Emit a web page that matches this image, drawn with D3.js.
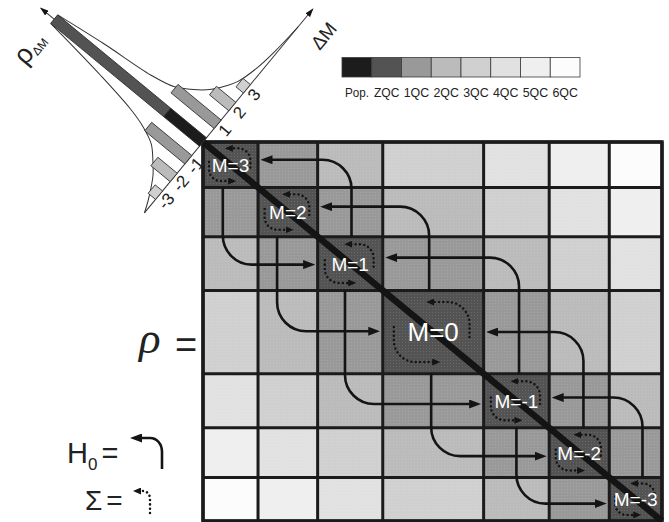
<!DOCTYPE html>
<html>
<head>
<meta charset="utf-8">
<script src="https://cdn.jsdelivr.net/npm/d3@7"></script>
<style>
  body { margin: 0; background: #fff; }
  svg { display: block; }
</style>
</head>
<body>
<script>
// ---- data ----------------------------------------------------------------
// magnetic quantum number of each diagonal block, top-left to bottom-right
const mValues = [3, 2, 1, 0, -1, -2, -3];
// relative dimension of each M subspace
const blockSize = [12, 13, 14.2, 22, 14.3, 13.1, 11.5];
// H0 couplings between M subspaces: [from, to]
const couplings = [[1, 3], [3, 1], [0, 2], [2, 0], [-1, 1], [1, -1], [-2, 0], [0, -2], [-3, -1], [-1, -3]];

// coherence-order legend
const legendLabels = ["Pop.", "ZQC", "1QC", "2QC", "3QC", "4QC", "5QC", "6QC"];

// coherence-order distribution rho(ΔM)
const deltaM = [-3, -2, -1, 0, 1, 2, 3];
const rhoPop = [0, 0, 0, 0.24, 0, 0, 0];
const rhoCoh = [0.05, 0.13, 0.27, 0.76, 0.29, 0.13, 0.05];
// envelope of the distribution, [ΔM, rho]
const envelopePos = [[0.24, 1.0], [0.55, 0.72], [0.8, 0.43], [1.05, 0.30], [1.5, 0.21], [2.0, 0.14], [2.5, 0.095], [3.0, 0.06], [4.0, 0.028], [5.0, 0.012], [6.5, 0]];
const envelopeNeg = [[-0.24, 1.0], [-0.6, 0.63], [-0.9, 0.40], [-1.15, 0.29], [-1.5, 0.2], [-2.0, 0.14], [-2.5, 0.09], [-3.0, 0.055], [-3.5, 0.025], [-4.0, 0]];

// ---- styles / layout -----------------------------------------------------
const palette = ["#1c1c1c", "#535353", "#999999", "#bbbbbb", "#d0d0d0", "#e1e1e1", "#efefef", "#fcfcfc"];
const ink = "#141414";
const W = 669, H = 522;
const mx0 = 203, my0 = 142, mx1 = 662, my1 = 521;
// where each coupling arrow runs inside its column / row (fraction of block)
const lane = {
  "1>3": [0.52, 0.39], "3>1": [0.36, 0.52],
  "0>2": [0.46, 0.39], "2>0": [0.32, 0.49],
  "-1>1": [0.54, 0.39], "1>-1": [0.42, 0.56],
  "-2>0": [0.57, 0.50], "0>-2": [0.48, 0.57],
  "-3>-1": [0.63, 0.44], "-1>-3": [0.50, 0.60]
};

const svg = d3.select("body").append("svg").attr("width", W).attr("height", H);
const defs = svg.append("defs");

function marker(id, len, wid, ref) {
  defs.append("marker").attr("id", id)
    .attr("markerUnits", "userSpaceOnUse")
    .attr("markerWidth", len).attr("markerHeight", wid)
    .attr("refX", ref).attr("refY", wid / 2)
    .attr("orient", "auto")
    .append("path")
    .attr("d", `M0,0 L${len},${wid / 2} L0,${wid} Z`)
    .attr("fill", ink);
}
marker("ah", 12, 9, 5);
marker("ahDot", 8, 7, 2);
marker("ahAxis", 9, 6, 8);

// halftone texture over the density matrix
const pat = defs.append("pattern").attr("id", "dots")
  .attr("patternUnits", "userSpaceOnUse").attr("width", 3).attr("height", 3);
pat.append("rect").attr("x", 0).attr("y", 0).attr("width", 1).attr("height", 1)
  .attr("fill", "#fff").attr("opacity", 0.12);

// ---- density matrix ------------------------------------------------------
const cum = [0, ...d3.cumsum(blockSize)];
const total = cum[cum.length - 1];
const xs = d3.scaleLinear().domain([0, total]).range([mx0, mx1]);
const ys = d3.scaleLinear().domain([0, total]).range([my0, my1]);
const idx = m => mValues.indexOf(m);
const colL = m => xs(cum[idx(m)]), colR = m => xs(cum[idx(m) + 1]);
const rowT = m => ys(cum[idx(m)]), rowB = m => ys(cum[idx(m) + 1]);

const cells = [];
mValues.forEach(r => mValues.forEach(c => cells.push({ r, c, q: Math.abs(r - c) })));

const mat = svg.append("g");
mat.selectAll("rect.cell").data(cells).join("rect")
  .attr("class", "cell")
  .attr("x", d => colL(d.c)).attr("y", d => rowT(d.r))
  .attr("width", d => colR(d.c) - colL(d.c))
  .attr("height", d => rowB(d.r) - rowT(d.r))
  .attr("fill", d => palette[1 + d.q]);
mat.append("rect").attr("x", mx0).attr("y", my0)
  .attr("width", mx1 - mx0).attr("height", my1 - my0)
  .attr("fill", "url(#dots)");

// block grid
mat.selectAll("line.v").data(cum).join("line")
  .attr("x1", d => xs(d)).attr("x2", d => xs(d))
  .attr("y1", my0).attr("y2", my1)
  .attr("stroke", "#1b1b1b").attr("stroke-width", 3);
mat.selectAll("line.h").data(cum).join("line")
  .attr("y1", d => ys(d)).attr("y2", d => ys(d))
  .attr("x1", mx0).attr("x2", mx1)
  .attr("stroke", "#1b1b1b").attr("stroke-width", 3);
mat.append("rect").attr("x", mx0).attr("y", my0)
  .attr("width", mx1 - mx0).attr("height", my1 - my0)
  .attr("fill", "none").attr("stroke", "#1b1b1b").attr("stroke-width", 3.5);

// populations along the diagonal
mat.append("line").attr("x1", mx0).attr("y1", my0).attr("x2", mx1).attr("y2", my1)
  .attr("stroke", ink).attr("stroke-width", 6.5);

// H0 coupling arrows
const r0 = 29, k = 0.55, head = 7;
couplings.forEach(([a, b]) => {
  const [fc, fr] = lane[`${a}>${b}`];
  const xv = colL(a) + fc * (colR(a) - colL(a));
  const yh = rowT(b) + fr * (rowB(b) - rowT(b));
  let d;
  if (b > a) {          // target block lies above-left
    const y0 = rowT(a), xTip = colR(b) + 2.5;
    d = `M${xv},${y0} V${yh + r0} C${xv},${yh + r0 * (1 - k)} ${xv - r0 * (1 - k)},${yh} ${xv - r0},${yh} H${xTip + head}`;
  } else {              // target block lies below-right
    const y0 = rowB(a), xTip = colL(b) - 2.5;
    d = `M${xv},${y0} V${yh - r0} C${xv},${yh - r0 * (1 - k)} ${xv + r0 * (1 - k)},${yh} ${xv + r0},${yh} H${xTip - head}`;
  }
  mat.append("path").attr("d", d).attr("fill", "none")
    .attr("stroke", ink).attr("stroke-width", 2.6)
    .attr("marker-end", "url(#ah)");
});

// relaxation loops inside each diagonal block
const dotted = { stroke: ink, "stroke-width": 2.5, "stroke-dasharray": "0.01 4.3", "stroke-linecap": "round", fill: "none" };
function applyAttrs(sel, o) { Object.entries(o).forEach(([k2, v]) => sel.attr(k2, v)); return sel; }
mValues.forEach(m => {
  const x0 = colL(m), y0 = rowT(m), w = colR(m) - x0, h = rowB(m) - y0;
  const rr = Math.min(w, h) * 0.26;
  // upper arc: up the right side, then leftwards
  const xa = x0 + 0.86 * w, ya = y0 + 0.14 * h;
  applyAttrs(mat.append("path"), dotted)
    .attr("d", `M${xa},${y0 + 0.56 * h} V${ya + rr} C${xa},${ya + rr * 0.45} ${xa - rr * 0.45},${ya} ${xa - rr},${ya} H${x0 + 0.47 * w + 2}`)
    .attr("marker-end", "url(#ahDot)");
  // lower arc: down the left side, then rightwards
  const xb = x0 + 0.11 * w, yb = y0 + 0.86 * h;
  applyAttrs(mat.append("path"), dotted)
    .attr("d", `M${xb},${y0 + 0.44 * h} V${yb - rr} C${xb},${yb - rr * 0.45} ${xb + rr * 0.45},${yb} ${xb + rr},${yb} H${x0 + 0.53 * w - 2}`)
    .attr("marker-end", "url(#ahDot)");
});

// block labels
mat.selectAll("text.m").data(mValues).join("text")
  .attr("class", "m")
  .attr("x", m => (colL(m) + colR(m)) / 2)
  .attr("y", m => (rowT(m) + rowB(m)) / 2 + (m === 0 ? 9 : 7))
  .attr("text-anchor", "middle")
  .attr("font-family", "'Liberation Sans', Arial, sans-serif")
  .attr("font-size", m => m === 0 ? 26 : 19)
  .attr("fill", "#fff")
  .text(m => `M=${m}`);

// ---- coherence-order distribution ---------------------------------------
const ang = Math.atan2(my1 - my0, mx1 - mx0) * 180 / Math.PI - 90;
const dist = svg.append("g").attr("transform", `translate(${mx0},${my0}) rotate(${ang})`);
const dx = d3.scaleLinear().domain([0, 1]).range([0, 23]);
const dy = d3.scaleLinear().domain([0, 1]).range([0, -193]);
const barW = 11;

const env = d3.line().x(d => dx(d[0])).y(d => dy(d[1])).curve(d3.curveCatmullRom.alpha(0.5));
[envelopePos, envelopeNeg].forEach(e =>
  dist.append("path").attr("d", env(e)).attr("fill", "none")
    .attr("stroke", "#333").attr("stroke-width", 1));

// axes
dist.append("line").attr("x1", dx(-4)).attr("x2", dx(7.5)).attr("y1", 0).attr("y2", 0)
  .attr("stroke", "#333").attr("stroke-width", 1).attr("marker-end", "url(#ahAxis)");
dist.append("line").attr("x1", 0).attr("x2", 0).attr("y1", 0).attr("y2", dy(1.09))
  .attr("stroke", "#333").attr("stroke-width", 1).attr("marker-end", "url(#ahAxis)");

// bars: population part then coherence part
const bars = deltaM.map((m, i) => ({ m, pop: rhoPop[i], coh: rhoCoh[i], q: Math.abs(m) }));
dist.selectAll("rect.coh").data(bars).join("rect")
  .attr("class", "coh")
  .attr("x", d => dx(d.m) - barW / 2).attr("width", barW)
  .attr("y", d => dy(d.pop + d.coh))
  .attr("height", d => dy(d.pop) - dy(d.pop + d.coh))
  .attr("fill", d => palette[1 + d.q])
  .attr("stroke", "#2a2a2a").attr("stroke-width", 0.8);
dist.selectAll("rect.pop").data(bars.filter(d => d.pop > 0)).join("rect")
  .attr("class", "pop")
  .attr("x", d => dx(d.m) - barW / 2).attr("width", barW)
  .attr("y", d => dy(d.pop)).attr("height", d => -dy(d.pop))
  .attr("fill", palette[0]).attr("stroke", "#2a2a2a").attr("stroke-width", 0.8);

// tick labels
dist.selectAll("text.tick").data(deltaM.filter(m => m !== 0)).join("text")
  .attr("class", "tick")
  .attr("x", m => dx(m)).attr("y", 15)
  .attr("text-anchor", "middle")
  .attr("font-family", "'Liberation Sans', Arial, sans-serif")
  .attr("font-size", 17).attr("fill", "#222")
  .text(m => m);

// axis titles
dist.append("text").attr("x", dx(6.9)).attr("y", 32)
  .attr("text-anchor", "middle")
  .attr("font-family", "'Liberation Sans', Arial, sans-serif")
  .attr("font-size", 19).attr("fill", "#222").text("ΔM");
const rl = dist.append("text").attr("x", -38).attr("y", dy(0.98) + 4)
  .attr("text-anchor", "middle")
  .attr("font-family", "'Liberation Sans', Arial, sans-serif")
  .attr("fill", "#222");
rl.append("tspan").attr("font-size", 27).text("ρ");
rl.append("tspan").attr("font-size", 12).attr("dy", 3).text("ΔM");

// ---- legend --------------------------------------------------------------
const lx = d3.scaleBand().domain(legendLabels).range([342, 580]);
const leg = svg.append("g");
leg.selectAll("rect").data(legendLabels).join("rect")
  .attr("x", d => lx(d)).attr("y", 57.5)
  .attr("width", lx.bandwidth()).attr("height", 19.5)
  .attr("fill", (d, i) => palette[i])
  .attr("stroke", "#3a3a3a").attr("stroke-width", 0.8);
leg.selectAll("text").data(legendLabels).join("text")
  .attr("x", d => lx(d) + lx.bandwidth() / 2).attr("y", 96.5)
  .attr("text-anchor", "middle")
  .attr("font-family", "'Liberation Sans', Arial, sans-serif")
  .attr("font-size", 13.5).attr("fill", "#222")
  .attr("textLength", d => d === "Pop." ? 24 : 25.5)
  .attr("lengthAdjust", "spacingAndGlyphs")
  .text(d => d);

// ---- equation labels -----------------------------------------------------
svg.append("text").attr("x", 139).attr("y", 353)
  .attr("font-family", "'Liberation Serif', 'Times New Roman', serif")
  .attr("font-style", "italic").attr("font-size", 45).attr("fill", "#222").text("ρ");
svg.append("text").attr("x", 175).attr("y", 358)
  .attr("font-family", "'Liberation Sans', Arial, sans-serif")
  .attr("font-size", 38).attr("fill", "#222").text("=");

const h0 = svg.append("text").attr("x", 67).attr("y", 463)
  .attr("font-family", "'Liberation Sans', Arial, sans-serif")
  .attr("font-size", 29).attr("fill", "#222");
h0.append("tspan").text("H");
h0.append("tspan").attr("font-size", 17).attr("dy", 7).text("0");
h0.append("tspan").attr("dy", -7).attr("dx", 4).text("=");

svg.append("path")
  .attr("d", "M162,469 V452 C162,444 157,438 150,438 H137")
  .attr("fill", "none").attr("stroke", ink).attr("stroke-width", 2.6)
  .attr("marker-end", "url(#ah)");

const sg = svg.append("text").attr("x", 85).attr("y", 510)
  .attr("font-family", "'Liberation Sans', Arial, sans-serif")
  .attr("font-size", 28).attr("fill", "#222");
sg.append("tspan").text("Σ");
sg.append("tspan").attr("dx", 4).text("=");

applyAttrs(svg.append("path"), dotted)
  .attr("d", "M150,513 V499 C150,494 147,491 142,491 H139")
  .attr("marker-end", "url(#ahDot)");
</script>
</body>
</html>
